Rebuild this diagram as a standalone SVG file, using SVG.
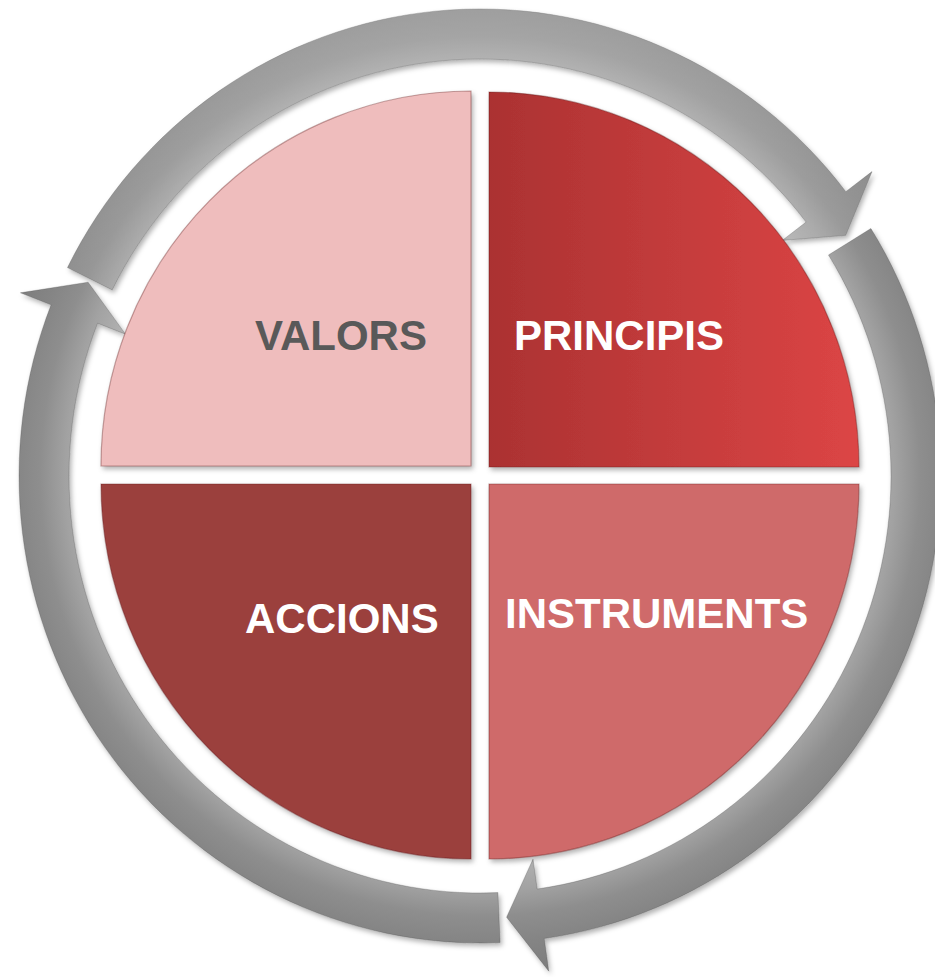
<svg xmlns="http://www.w3.org/2000/svg" width="935" height="977" viewBox="0 0 935 977">
  <defs>
    <style>
      .lbl { font-family: "Liberation Sans", Arial, sans-serif; font-weight: bold; font-size: 42px; }
      .white { fill: #ffffff; }
      .quad { stroke: rgba(90,20,20,0.35); stroke-width: 1.2; filter: url(#shadow); }
      .arrow { fill: url(#ringGrad); stroke: rgba(70,70,70,0.35); stroke-width: 0.8; filter: url(#shadow); }
      .sheen { fill: url(#topSheen); stroke: none; }
    </style>
    <filter id="shadow" x="-10%" y="-10%" width="120%" height="120%">
      <feDropShadow dx="2" dy="3" stdDeviation="2.5" flood-color="#000000" flood-opacity="0.3"/>
    </filter>
    <radialGradient id="ringGrad" gradientUnits="userSpaceOnUse" cx="480" cy="476" r="500">
      <stop offset="0.76" stop-color="#b4b4b4"/>
      <stop offset="0.83" stop-color="#a2a2a2"/>
      <stop offset="0.88" stop-color="#8e8e8e"/>
      <stop offset="0.93" stop-color="#858585"/>
      <stop offset="1" stop-color="#7c7c7c"/>
    </radialGradient>
    <linearGradient id="topSheen" gradientUnits="userSpaceOnUse" x1="0" y1="0" x2="0" y2="420">
      <stop offset="0" stop-color="#ffffff" stop-opacity="0.22"/>
      <stop offset="1" stop-color="#ffffff" stop-opacity="0"/>
    </linearGradient>
    <linearGradient id="princGrad" x1="0" y1="0" x2="1" y2="0">
      <stop offset="0" stop-color="#ab3232"/>
      <stop offset="1" stop-color="#dc4545"/>
    </linearGradient>
  </defs>
  <rect width="935" height="977" fill="#ffffff"/>

  <g id="connectors">
    <path class="arrow" d="M67.5,267.6 A461,467 0 0,1 845.8,191.7 L872,171.6 L845.7,235.3 L782.3,240.4 L806.1,222.1 A411,417 0 0,0 112.2,289.9 Z"/>
    <path class="sheen" d="M67.5,267.6 A461,467 0 0,1 845.8,191.7 L872,171.6 L845.7,235.3 L782.3,240.4 L806.1,222.1 A411,417 0 0,0 112.2,289.9 Z"/>
    <path class="arrow" d="M870.9,228.5 A461,467 0 0,1 544.2,938.5 L548.8,971.2 L506.6,917.2 L533,859.2 L537.2,889 A411,417 0 0,0 828.5,255 Z"/>
    <path class="arrow" d="M500.1,942.5 A461,467 0 0,1 51.1,304.8 L20.4,292.8 L88.1,282.2 L125.5,334.2 L97.6,323.2 A411,417 0 0,0 497.9,892.6 Z"/>
  </g>

  <g id="node-valors">
    <path class="quad" fill="#efbdbd" d="M471,466 L101,466 A370,375 0 0,1 471,91 Z"/>
    <text class="lbl" x="255" y="350" fill="#595959">VALORS</text>
  </g>
  <g id="node-principis">
    <path class="quad" fill="url(#princGrad)" d="M489,467 L489,92 A370,375 0 0,1 859,467 Z"/>
    <text class="lbl white" x="514" y="350">PRINCIPIS</text>
  </g>
  <g id="node-accions">
    <path class="quad" fill="#9b3f3e" d="M471,484 L471,859 A370,375 0 0,1 101,484 Z"/>
    <text class="lbl white" x="245" y="633">ACCIONS</text>
  </g>
  <g id="node-instruments">
    <path class="quad" fill="#cf6a6a" d="M489,484 L859,484 A370,375 0 0,1 489,859 Z"/>
    <text class="lbl white" x="505" y="628">INSTRUMENTS</text>
  </g>
</svg>
